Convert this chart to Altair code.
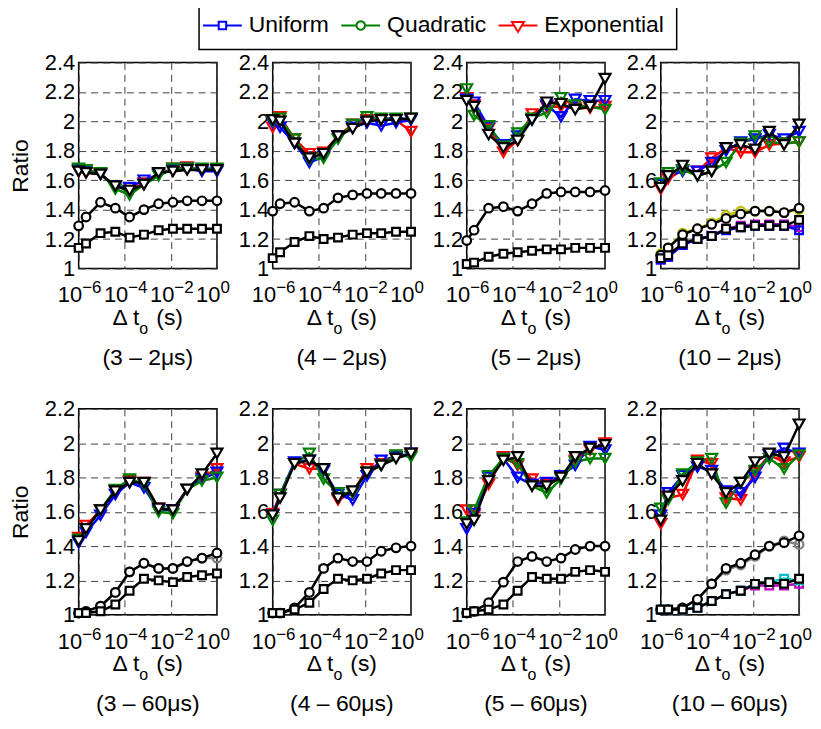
import altair as alt
import pandas as pd
import math

FONT = "Liberation Sans"

# ---------------- data ----------------
x_vals = [1e-6, 2.09e-6, 8.9e-6, 3.9e-5, 1.62e-4, 6.8e-4, 2.95e-3, 1.23e-2, 5.1e-2, 0.224, 1.0]

methods = ["Uniform", "Quadratic", "Exponential"]
method_colors = ["#0000ff", "#008000", "#ff0000"]

panel_titles = ["(3 – 2μs)", "(4 – 2μs)", "(5 – 2μs)", "(10 – 2μs)",
                "(3 – 60μs)", "(4 – 60μs)", "(5 – 60μs)", "(10 – 60μs)"]

ratio_ticks_top = [1.0, 1.2, 1.4, 1.6, 1.8, 2.0, 2.2, 2.4]
ratio_ticks_bottom = [1.0, 1.2, 1.4, 1.6, 1.8, 2.0, 2.2]
x_tick_vals = [1e-6, 1e-4, 1e-2, 1.0]
x_tick_base = ["10", "10", "10", "10"]
x_tick_exps = ["−6", "−4", "−2", "0"]
xlabel_parts = ["Δ t", "o", "(s)"]

p1 = {
    "tri_red":    [1.66, 1.65, 1.64, 1.56, 1.53, 1.58, 1.64, 1.68, 1.69, 1.67, 1.67],
    "tri_blue":   [1.67, 1.66, 1.64, 1.56, 1.55, 1.60, 1.64, 1.67, 1.68, 1.66, 1.66],
    "tri_green":  [1.68, 1.67, 1.65, 1.54, 1.50, 1.57, 1.63, 1.68, 1.68, 1.68, 1.68],
    "tri_black":  [1.66, 1.65, 1.64, 1.56, 1.53, 1.57, 1.65, 1.66, 1.67, 1.67, 1.67],
    "circ_black": [1.29, 1.35, 1.45, 1.41, 1.35, 1.40, 1.44, 1.45, 1.46, 1.46, 1.46],
    "sq_black":   [1.14, 1.17, 1.24, 1.25, 1.21, 1.23, 1.26, 1.27, 1.27, 1.27, 1.27],
}
p2 = {
    "tri_red":    [1.96, 2.03, 1.88, 1.78, 1.79, 1.90, 1.98, 2.01, 2.01, 2.01, 1.93],
    "tri_blue":   [1.99, 1.96, 1.85, 1.72, 1.76, 1.90, 1.96, 1.99, 1.97, 1.99, 2.01],
    "tri_green":  [2.00, 2.02, 1.88, 1.74, 1.75, 1.88, 1.98, 2.03, 2.02, 2.02, 2.02],
    "tri_black":  [2.01, 2.00, 1.85, 1.75, 1.78, 1.90, 1.95, 2.00, 2.01, 2.01, 2.02],
    "circ_black": [1.39, 1.44, 1.45, 1.39, 1.41, 1.48, 1.50, 1.51, 1.51, 1.51, 1.51],
    "sq_black":   [1.07, 1.11, 1.18, 1.22, 1.20, 1.21, 1.23, 1.24, 1.24, 1.25, 1.25],
}
p3 = {
    "tri_red":    [2.16, 2.11, 1.95, 1.79, 1.87, 2.05, 2.10, 2.10, 2.09, 2.09, 2.10],
    "tri_blue":   [2.15, 2.13, 1.96, 1.84, 1.90, 2.01, 2.11, 2.03, 2.15, 2.14, 2.14],
    "tri_green":  [2.22, 2.04, 1.97, 1.83, 1.92, 2.02, 2.06, 2.16, 2.11, 2.10, 2.08],
    "tri_black":  [2.14, 2.10, 1.91, 1.82, 1.87, 2.01, 2.13, 2.12, 2.08, 2.10, 2.29],
    "circ_black": [1.19, 1.26, 1.41, 1.42, 1.39, 1.44, 1.51, 1.52, 1.52, 1.52, 1.53],
    "sq_black":   [1.03, 1.04, 1.08, 1.10, 1.11, 1.12, 1.13, 1.13, 1.14, 1.14, 1.14],
}
p4 = {
    "tri_red":    [1.54, 1.61, 1.67, 1.66, 1.75, 1.82, 1.79, 1.79, 1.84, 1.85, 1.86],
    "tri_blue":   [1.57, 1.63, 1.66, 1.66, 1.72, 1.80, 1.86, 1.88, 1.91, 1.88, 1.93],
    "tri_green":  [1.58, 1.65, 1.67, 1.63, 1.66, 1.72, 1.85, 1.90, 1.86, 1.85, 1.86],
    "tri_black":  [1.55, 1.63, 1.70, 1.63, 1.66, 1.82, 1.84, 1.81, 1.93, 1.84, 1.98],
    "circ_yellow": [1.10, 1.14, 1.24, 1.27, 1.31, 1.36, 1.39, 1.39, 1.39, 1.38, 1.40],
    "sq_magenta": [1.06, 1.08, 1.16, 1.20, 1.22, 1.27, 1.29, 1.30, 1.30, 1.30, 1.28],
    "sq_blue":    [1.06, 1.08, 1.16, 1.20, 1.22, 1.26, 1.28, 1.29, 1.29, 1.29, 1.26],
    "circ_black": [1.09, 1.14, 1.23, 1.27, 1.30, 1.34, 1.37, 1.39, 1.39, 1.38, 1.41],
    "sq_black":   [1.07, 1.09, 1.17, 1.20, 1.22, 1.27, 1.28, 1.29, 1.29, 1.29, 1.33],
}
p5 = {
    "tri_red":    [1.45, 1.52, 1.61, 1.72, 1.78, 1.77, 1.62, 1.61, 1.73, 1.80, 1.85],
    "tri_blue":   [1.42, 1.48, 1.58, 1.70, 1.77, 1.74, 1.61, 1.61, 1.73, 1.79, 1.83],
    "tri_green":  [1.44, 1.50, 1.61, 1.73, 1.79, 1.76, 1.60, 1.59, 1.73, 1.78, 1.80],
    "tri_black":  [1.43, 1.50, 1.61, 1.72, 1.77, 1.77, 1.62, 1.61, 1.73, 1.82, 1.94],
    "circ_gray":  [1.01, 1.02, 1.05, 1.13, 1.25, 1.30, 1.27, 1.27, 1.31, 1.33, 1.33],
    "circ_black": [1.01, 1.02, 1.05, 1.13, 1.25, 1.30, 1.27, 1.27, 1.31, 1.33, 1.36],
    "sq_black":   [1.01, 1.01, 1.02, 1.06, 1.14, 1.21, 1.20, 1.19, 1.22, 1.23, 1.24],
}
p6 = {
    "tri_red":    [1.59, 1.70, 1.88, 1.85, 1.85, 1.67, 1.71, 1.85, 1.88, 1.92, 1.93],
    "tri_blue":   [1.58, 1.70, 1.89, 1.90, 1.84, 1.70, 1.67, 1.81, 1.90, 1.92, 1.94],
    "tri_green":  [1.55, 1.70, 1.88, 1.94, 1.79, 1.71, 1.71, 1.83, 1.87, 1.93, 1.92],
    "tri_black":  [1.58, 1.68, 1.88, 1.90, 1.85, 1.68, 1.72, 1.83, 1.87, 1.91, 1.94],
    "circ_black": [1.01, 1.01, 1.04, 1.13, 1.27, 1.33, 1.31, 1.31, 1.37, 1.39, 1.40],
    "sq_black":   [1.01, 1.01, 1.03, 1.07, 1.15, 1.21, 1.20, 1.21, 1.24, 1.26, 1.26],
}
p7 = {
    "tri_red":    [1.61, 1.58, 1.76, 1.92, 1.87, 1.79, 1.76, 1.80, 1.90, 1.96, 2.00],
    "tri_blue":   [1.50, 1.59, 1.80, 1.91, 1.80, 1.76, 1.77, 1.81, 1.87, 1.98, 1.96],
    "tri_green":  [1.54, 1.61, 1.81, 1.91, 1.88, 1.75, 1.71, 1.79, 1.89, 1.91, 1.91],
    "tri_black":  [1.53, 1.55, 1.78, 1.90, 1.92, 1.75, 1.75, 1.80, 1.92, 1.97, 1.99],
    "circ_black": [1.01, 1.02, 1.07, 1.19, 1.31, 1.34, 1.31, 1.33, 1.38, 1.40, 1.40],
    "sq_black":   [1.01, 1.02, 1.03, 1.06, 1.14, 1.22, 1.21, 1.21, 1.25, 1.26, 1.25],
}
p8 = {
    "tri_red":    [1.53, 1.68, 1.70, 1.90, 1.88, 1.68, 1.67, 1.83, 1.93, 1.89, 1.92],
    "tri_blue":   [1.58, 1.71, 1.81, 1.86, 1.84, 1.72, 1.71, 1.80, 1.93, 1.97, 1.94],
    "tri_green":  [1.62, 1.67, 1.82, 1.89, 1.91, 1.65, 1.77, 1.84, 1.91, 1.85, 1.93],
    "tri_black":  [1.55, 1.69, 1.78, 1.88, 1.82, 1.71, 1.77, 1.89, 1.94, 1.92, 2.11],
    "circ_gray":  [1.03, 1.03, 1.04, 1.09, 1.18, 1.26, 1.29, 1.34, 1.40, 1.43, 1.41],
    "sq_magenta": [1.03, 1.03, 1.03, 1.04, 1.08, 1.12, 1.14, 1.17, 1.17, 1.17, 1.18],
    "sq_cyan":    [1.03, 1.03, 1.03, 1.04, 1.08, 1.12, 1.14, 1.18, 1.19, 1.21, 1.20],
    "circ_black": [1.03, 1.03, 1.04, 1.09, 1.18, 1.27, 1.30, 1.35, 1.40, 1.42, 1.46],
    "sq_black":   [1.03, 1.03, 1.03, 1.04, 1.08, 1.12, 1.14, 1.18, 1.19, 1.18, 1.21],
}
panels = [p1, p2, p3, p4, p5, p6, p7, p8]

# ---------------- styles ----------------
series_colors = {"red": "#ff0000", "blue": "#0000ff", "green": "#008000",
                 "yellow": "#bfbf00", "gray": "#7f7f7f", "magenta": "#bf00bf",
                 "cyan": "#00bfbf"}
shapes = {"tri": "triangle-down", "circ": "circle", "sq": "square"}
marker_sizes = {"tri": 120, "circ": 75, "sq": 60}


def _circle_path(r, n=20):
    pts = ["%.3f,%.3f" % (r * math.cos(2 * math.pi * i / n), r * math.sin(2 * math.pi * i / n))
           for i in range(n)]
    return "M" + "L".join(pts) + "Z"


legend_paths = [
    "M-3.9,0H-0.75M0.75,0H3.9M-0.75,-0.75H0.75V0.75H-0.75Z",
    "M-3.9,0H-0.85M0.85,0H3.9" + _circle_path(0.85),
    "M-3.9,0H-0.78M0.78,0H3.9M-1.2,-0.7H1.2L0,1.3Z",
]

W, H = 139, 207

rows = []
for p, pdata in enumerate(panels):
    for sid, vals in pdata.items():
        group, color = sid.split("_")
        for xv, yv in zip(x_vals, vals):
            rows.append(dict(panel=p, sid=sid, group=group, color=color, x=xv, y=yv))
df = pd.DataFrame(rows)

xscale = alt.Scale(type="log", domain=[1e-6, 1.0], nice=False)
stroke_scale = alt.Scale(domain=list(series_colors.keys()), range=list(series_colors.values()))

ticks_df = pd.DataFrame({"x": x_tick_vals, "base": x_tick_base, "exp": x_tick_exps})


def make_panel(p):
    row = p // 4
    ymax = 2.4 if row == 0 else 2.2
    yticks = ratio_ticks_top if row == 0 else ratio_ticks_bottom
    x = alt.X("x:Q", scale=xscale,
              axis=alt.Axis(values=x_tick_vals, labels=False, ticks=False, domain=False,
                            grid=True, title=None))
    yaxis_kw = dict(values=yticks, format=".1~f", grid=True, domain=False, ticks=False,
                    tickSize=0, labelPadding=4)
    if p % 4 == 0:
        yaxis_kw.update(title="Ratio", titlePadding=12)
    else:
        yaxis_kw.update(title=None)
    y = alt.Y("y:Q", scale=alt.Scale(domain=[1.0, ymax], nice=False, zero=False),
              axis=alt.Axis(**yaxis_kw))
    stroke = alt.Stroke("color:N", scale=stroke_scale, legend=None)

    base = alt.Chart(df).transform_filter(alt.datum.panel == p)
    colored = base.transform_filter("datum.color != 'black'")
    black = base.transform_filter("datum.color == 'black'")

    layers = [colored.mark_line(strokeWidth=2.5).encode(x=x, y=y, stroke=stroke, detail="sid:N")]
    for g, shp in shapes.items():
        layers.append(
            colored.transform_filter(f"datum.group == '{g}'")
            .mark_point(shape=shp, filled=False, size=marker_sizes[g], strokeWidth=2.2, opacity=1)
            .encode(x=x, y=y, stroke=stroke)
        )
    layers.append(black.mark_line(color="black", strokeWidth=2.5).encode(x=x, y=y, detail="sid:N"))
    for g, shp in shapes.items():
        layers.append(
            black.transform_filter(f"datum.group == '{g}'")
            .mark_point(shape=shp, filled=True, fill="white", stroke="black",
                        size=marker_sizes[g], strokeWidth=2.2, opacity=1)
            .encode(x=x, y=y)
        )

    tb = alt.Chart(ticks_df)
    layers.append(
        tb.mark_text(align="right", baseline="alphabetic", dx=3.5, fontSize=22, font=FONT, color="black")
        .encode(x=alt.X("x:Q", scale=xscale), y=alt.value(H + 34), text="base:N")
    )
    layers.append(
        tb.mark_text(align="left", baseline="alphabetic", dx=3.5, fontSize=17, font=FONT, color="black")
        .encode(x=alt.X("x:Q", scale=xscale), y=alt.value(H + 25), text="exp:N")
    )

    lab = alt.Chart(pd.DataFrame({"t": [xlabel_parts[0]]}))
    layers.append(lab.mark_text(align="right", baseline="alphabetic", fontSize=23, font=FONT, color="black")
                  .encode(x=alt.value(W / 2 - 8.5), y=alt.value(H + 57), text="t:N"))
    lab2 = alt.Chart(pd.DataFrame({"t": [xlabel_parts[1]]}))
    layers.append(lab2.mark_text(align="left", baseline="alphabetic", fontSize=16, font=FONT, color="black")
                  .encode(x=alt.value(W / 2 - 8.5), y=alt.value(H + 66), text="t:N"))
    lab3 = alt.Chart(pd.DataFrame({"t": [xlabel_parts[2]]}))
    layers.append(lab3.mark_text(align="left", baseline="alphabetic", fontSize=23, font=FONT, color="black")
                  .encode(x=alt.value(W / 2 + 8.5), y=alt.value(H + 57), text="t:N"))
    ttl = alt.Chart(pd.DataFrame({"t": [panel_titles[p]]}))
    layers.append(ttl.mark_text(align="center", baseline="alphabetic", fontSize=23, font=FONT, color="black")
                  .encode(x=alt.value(W / 2), y=alt.value(H + 97), text="t:N"))

    if p == 0:
        leg = alt.Legend(orient="none", legendX=121, legendY=-61, direction="horizontal",
                         title=None, labelFontSize=23, labelFont=FONT, labelColor="black",
                         symbolSize=100, symbolStrokeWidth=2, symbolFillColor="white",
                         symbolOpacity=1, padding=12, labelOffset=15, columnPadding=8,
                         strokeColor="black", labelLimit=0)
        legend_df = pd.DataFrame({"method": methods})
        layers.append(
            alt.Chart(legend_df).transform_filter("false")
            .mark_point(filled=False, fill="white", strokeWidth=2, opacity=1, size=100)
            .encode(
                color=alt.Color("method:N", scale=alt.Scale(domain=methods, range=method_colors), legend=leg),
                shape=alt.Shape("method:N", scale=alt.Scale(domain=methods, range=legend_paths), legend=leg),
            )
        )

    return alt.layer(*layers).properties(width=W, height=H)


chart = alt.concat(*[make_panel(p) for p in range(8)], columns=4,
                   spacing={"row": 141, "column": 56}, bounds="flush").properties(
    padding={"left": 0, "top": -9, "right": 0, "bottom": 0}
).configure_view(
    stroke="black", strokeWidth=1.5
).configure_axis(
    labelFont=FONT, labelFontSize=22, labelColor="black",
    titleFont=FONT, titleFontSize=23, titleFontWeight="normal", titleColor="black",
    gridColor="#404040", gridDash=[7, 5], gridWidth=1, gridOpacity=1,
).configure_legend(
    strokeWidth=1.5
)

chart.save("out.html", embed_options={"renderer": "svg", "actions": False})
